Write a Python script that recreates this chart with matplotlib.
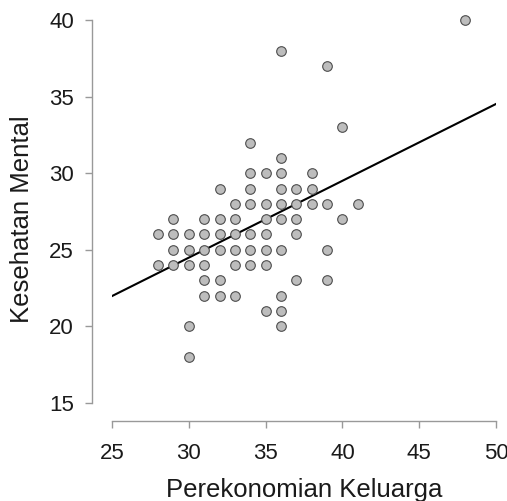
import numpy as np
import matplotlib
matplotlib.use("Agg")
import matplotlib.pyplot as plt

plt.rcParams['font.family'] = ['Liberation Sans', 'DejaVu Sans']

# data (x = Perekonomian Keluarga, y = Kesehatan Mental)
x_vals = [48, 36, 39, 40, 34, 36,
          34, 35, 36, 38,
          32, 34, 36, 37, 38,
          33, 34, 35, 36, 37, 38, 39, 41,
          29, 31, 32, 33, 35, 36, 37, 40,
          28, 29, 30, 31, 32, 33, 34, 35, 37,
          29, 30, 31, 32, 33, 34, 35, 36, 39,
          28, 29, 30, 31, 33, 34, 35,
          31, 32, 37, 39,
          31, 32, 33, 36,
          35, 36,
          30, 36,
          30]
y_vals = [40, 38, 37, 33, 32, 31,
          30, 30, 30, 30,
          29, 29, 29, 29, 29,
          28, 28, 28, 28, 28, 28, 28, 28,
          27, 27, 27, 27, 27, 27, 27, 27,
          26, 26, 26, 26, 26, 26, 26, 26, 26,
          25, 25, 25, 25, 25, 25, 25, 25, 25,
          24, 24, 24, 24, 24, 24, 24,
          23, 23, 23, 23,
          22, 22, 22, 22,
          21, 21,
          20, 20,
          18]

# regression line as drawn
intercept = 9.44
slope = 0.5016
x_ticks = [25, 30, 35, 40, 45, 50]
y_ticks = [15, 20, 25, 30, 35, 40]

W, H = 507, 501
fig = plt.figure(figsize=(W / 100, H / 100), dpi=100)
ax = fig.add_axes([112 / W, 1 - 403 / H, (496 - 112) / W, (403 - 20) / H])

line_x = np.array([25, 50])
ax.plot(line_x, intercept + slope * line_x, color='black', lw=1.5, zorder=2)
ax.scatter(x_vals, y_vals, s=48, facecolor='#bdbdbd', edgecolor='#4d4d4d',
           linewidth=0.8, zorder=3, clip_on=False)

ax.set_xlim(25, 50)
ax.set_ylim(15, 40)
ax.set_xticks(x_ticks)
ax.set_yticks(y_ticks)

for side in ['top', 'right']:
    ax.spines[side].set_visible(False)
ax.spines['left'].set_position(('outward', 14.4))
ax.spines['bottom'].set_position(('outward', 13))
ax.spines['left'].set_bounds(15, 40)
ax.spines['bottom'].set_bounds(25, 50)
for side in ['left', 'bottom']:
    ax.spines[side].set_color('#999999')
    ax.spines[side].set_linewidth(1.0)

ax.tick_params(axis='both', colors='#999999', labelcolor='#1a1a1a',
               length=5, width=1.0, labelsize=16)
ax.tick_params(axis='y', pad=8)
ax.tick_params(axis='x', pad=11)

ax.set_xlabel('Perekonomian Keluarga', fontsize=18.5, color='#1a1a1a', labelpad=10)
ax.set_ylabel('Kesehatan Mental', fontsize=18.5, color='#1a1a1a')
ax.yaxis.set_label_coords(-0.203, 0.48)

fig.savefig('out.png', dpi=100)
